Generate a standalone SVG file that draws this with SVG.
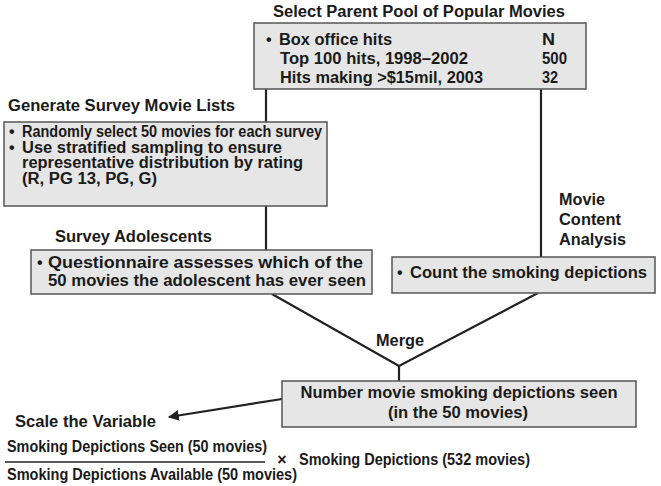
<svg xmlns="http://www.w3.org/2000/svg" width="661" height="486" viewBox="0 0 661 486">
<defs>
<style>
.box{fill:#e6e6e6;stroke:#555;stroke-width:1.5}
.t{font-family:"Liberation Sans",Arial,sans-serif;font-weight:bold;font-size:16px;fill:#1a1a1a}
.n{font-family:"Liberation Sans",Arial,sans-serif;font-weight:bold;font-size:16px;fill:#1a1a1a}
.c{fill:none;stroke:#222;stroke-width:2.2}
</style>
<marker id="ah" viewBox="0 0 10 10" refX="9" refY="5" markerWidth="5" markerHeight="5" orient="auto-start-reverse">
<path d="M0,0 L10,5 L0,10 z" fill="#222"/>
</marker>
</defs>
<rect width="661" height="486" fill="#fff"/>
<g id="connectors">
<line class="c" x1="266" y1="89" x2="266" y2="122"/>
<line class="c" x1="266" y1="206" x2="266" y2="250"/>
<line class="c" x1="541" y1="89" x2="541" y2="257"/>
<polyline class="c" points="272,294 399,366 538,293"/>
<line class="c" x1="399" y1="366" x2="399" y2="381"/>
<line class="c" x1="282" y1="399" x2="169" y2="417" marker-end="url(#ah)"/>
<text class="n" x="400" y="346" text-anchor="middle" font-size="17" textLength="48" lengthAdjust="spacingAndGlyphs">Merge</text>
</g>
<g id="parent-pool">
<text class="t" x="273" y="17" textLength="292" lengthAdjust="spacingAndGlyphs">Select Parent Pool of Popular Movies</text>
<rect class="box" x="254" y="23" width="332" height="66"/>
<text class="t" x="266" y="45">•</text>
<text class="t" x="279" y="45" textLength="113" lengthAdjust="spacingAndGlyphs">Box office hits</text>
<text class="t" x="280" y="64" textLength="188" lengthAdjust="spacingAndGlyphs">Top 100 hits, 1998–2002</text>
<text class="t" x="280" y="83" textLength="203" lengthAdjust="spacingAndGlyphs">Hits making &gt;$15mil, 2003</text>
<text class="t" x="542" y="45" textLength="13" lengthAdjust="spacingAndGlyphs">N</text>
<text class="t" x="542" y="64" textLength="25" lengthAdjust="spacingAndGlyphs">500</text>
<text class="t" x="542" y="83" textLength="16" lengthAdjust="spacingAndGlyphs">32</text>
</g>
<g id="generate-lists">
<text class="t" x="8" y="111" textLength="227" lengthAdjust="spacingAndGlyphs">Generate Survey Movie Lists</text>
<rect class="box" x="4" y="122" width="323" height="84"/>
<text class="t" x="9" y="137" font-size="13.5">•</text>
<text class="t" x="22" y="137" font-size="13.5" textLength="300" lengthAdjust="spacingAndGlyphs">Randomly select 50 movies for each survey</text>
<text class="t" x="9" y="152.5" font-size="13.5">•</text>
<text class="t" x="22" y="152.5" font-size="13.5" textLength="260" lengthAdjust="spacingAndGlyphs">Use stratified sampling to ensure</text>
<text class="t" x="22" y="168" font-size="13.5" textLength="281" lengthAdjust="spacingAndGlyphs">representative distribution by rating</text>
<text class="t" x="22" y="183.5" font-size="13.5" textLength="135" lengthAdjust="spacingAndGlyphs">(R, PG 13, PG, G)</text>
</g>
<g id="survey-adolescents">
<text class="t" x="55" y="242" textLength="157" lengthAdjust="spacingAndGlyphs">Survey Adolescents</text>
<rect class="box" x="31" y="250" width="341" height="44"/>
<text class="t" x="37" y="268">•</text>
<text class="t" x="48" y="268" textLength="315" lengthAdjust="spacingAndGlyphs">Questionnaire assesses which of the</text>
<text class="t" x="48" y="286" textLength="318" lengthAdjust="spacingAndGlyphs">50 movies the adolescent has ever seen</text>
</g>
<g id="content-analysis">
<text class="t" x="559" y="205" textLength="46" lengthAdjust="spacingAndGlyphs">Movie</text>
<text class="t" x="559" y="225" textLength="62" lengthAdjust="spacingAndGlyphs">Content</text>
<text class="t" x="559" y="245" textLength="67" lengthAdjust="spacingAndGlyphs">Analysis</text>
<rect class="box" x="392" y="257" width="263" height="36"/>
<text class="t" x="397" y="278">•</text>
<text class="t" x="410" y="278" textLength="237" lengthAdjust="spacingAndGlyphs">Count the smoking depictions</text>
</g>
<g id="number-seen">
<rect class="box" x="282" y="381" width="354" height="46"/>
<text class="n" x="459" y="398" text-anchor="middle" font-size="17" textLength="317" lengthAdjust="spacingAndGlyphs">Number movie smoking depictions seen</text>
<text class="n" x="458" y="418" text-anchor="middle" font-size="17" textLength="140" lengthAdjust="spacingAndGlyphs">(in the 50 movies)</text>
</g>
<g id="scale-variable">
<text class="n" x="15" y="427" font-size="17" textLength="141" lengthAdjust="spacingAndGlyphs">Scale the Variable</text>
<text class="n" x="7" y="452" font-size="14" textLength="260" lengthAdjust="spacingAndGlyphs">Smoking Depictions Seen (50 movies)</text>
<line x1="5" y1="462" x2="265" y2="462" stroke="#222" stroke-width="1.5"/>
<text class="n" x="7" y="480" font-size="14" textLength="290" lengthAdjust="spacingAndGlyphs">Smoking Depictions Available (50 movies)</text>
<text class="n" x="282" y="464.5" font-size="10" text-anchor="middle">×</text>
<text class="n" x="299" y="465" font-size="14" textLength="231" lengthAdjust="spacingAndGlyphs">Smoking Depictions (532 movies)</text>
</g>
</svg>
